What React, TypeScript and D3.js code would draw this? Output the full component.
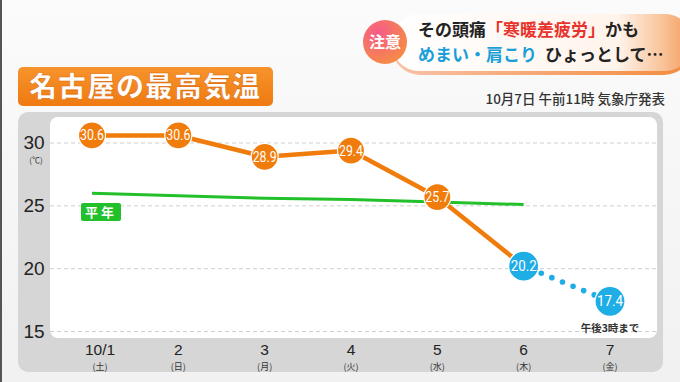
import React from "react";
import * as d3 from "d3";

const days = ["10/1", "2", "3", "4", "5", "6", "7"];
const weekdays = ["(土)", "(日)", "(月)", "(火)", "(水)", "(木)", "(金)"];
const maxTemps = [30.6, 30.6, 28.9, 29.4, 25.7, 20.2, 17.4];
const normalTemps = [26.0, 25.8, 25.6, 25.5, 25.3, 25.1];
const yTicks = [30, 25, 20, 15];

const JP = "'Noto Sans CJK JP', 'Noto Sans', sans-serif";
const NUM = "'Roboto', 'Liberation Sans', sans-serif";

export default function App() {
  const x = d3.scaleLinear().domain([0, 6]).range([92, 610]);
  const y = d3.scaleLinear().domain([15, 30]).range([331.5, 143]);
  const orange = "#f07c0c";
  const blue = "#1fade6";
  const green = "#22c02a";

  const solidIdx = [0, 1, 2, 3, 4, 5];
  const line = d3
    .line<number>()
    .x((i) => x(i))
    .y((i) => y(maxTemps[i]));
  const normalLine = d3
    .line<number>()
    .x((_, i) => x(i))
    .y((d) => y(d));

  // dotted segment from day 6 to day 7, between circle edges
  const x0 = x(5), y0 = y(maxTemps[5]), x1 = x(6), y1 = y(maxTemps[6]);
  const len = Math.hypot(x1 - x0, y1 - y0);
  const ux = (x1 - x0) / len, uy = (y1 - y0) / len;
  const start = 19, end = len - 17;
  const dots: [number, number][] = [];
  const n = 6;
  for (let k = 0; k < n; k++) {
    const s = start + ((end - start) * k) / (n - 1);
    dots.push([x0 + ux * s, y0 + uy * s]);
  }

  return (
    <svg
      width={680}
      height={382}
      style={{ position: "absolute", left: 0, top: 0 }}
      fontFamily={JP}
    >
      <defs>
        <linearGradient id="bg" x1="0" y1="0" x2="0" y2="1">
          <stop offset="0" stopColor="#fbfbfb" />
          <stop offset="1" stopColor="#f1f1f1" />
        </linearGradient>
        <linearGradient id="title" x1="0" y1="0" x2="0" y2="1">
          <stop offset="0" stopColor="#f7932c" />
          <stop offset="1" stopColor="#ef7a10" />
        </linearGradient>
        <radialGradient id="caution" cx="0.35" cy="0.3" r="0.8">
          <stop offset="0" stopColor="#f65a8a" />
          <stop offset="1" stopColor="#f59040" />
        </radialGradient>
        <linearGradient id="pill" x1="0" y1="0" x2="1" y2="0">
          <stop offset="0" stopColor="#ffffff" />
          <stop offset="0.75" stopColor="#fff4ec" />
          <stop offset="0.9" stopColor="#f9c49a" />
          <stop offset="1" stopColor="#f39a58" />
        </linearGradient>
        <linearGradient id="pillEdge" x1="0" y1="0" x2="1" y2="0">
          <stop offset="0" stopColor="#f7c3a8" />
          <stop offset="1" stopColor="#f48a3c" />
        </linearGradient>
      </defs>

      <rect x={0} y={0} width={680} height={382} fill="url(#bg)" />
      <rect x={0} y={0} width={2} height={382} fill="#555" />

      {/* top banner */}
      <rect x={392} y={15} width={300} height={60} rx={28} fill="url(#pillEdge)" />
      <rect x={392} y={14} width={300} height={57} rx={27} fill="url(#pill)" />
      <circle cx={385} cy={42} r={22} fill="url(#caution)" />
      <text x={385} y={48} textAnchor="middle" fill="#fff" fontSize={16} fontWeight={700}>
        注意
      </text>
      <text x={418} y={36} fontSize={17} fontWeight={700} fill="#222">
        その頭痛<tspan fill="#e8332c">「寒暖差疲労」</tspan>かも
      </text>
      <text x={418} y={61} fontSize={17} fontWeight={700} fill="#1b9fd8">
        めまい・肩こり
        <tspan fill="#222" dx={8}>ひょっとして…</tspan>
      </text>

      {/* title */}
      <rect x={18} y={67} width={255} height={39} rx={5} fill="url(#title)" />
      <text
        x={145}
        y={97}
        textAnchor="middle"
        fill="#fff"
        fontSize={28}
        fontWeight={900}
        letterSpacing={1}
        stroke="#e06a00"
        strokeWidth={0.6}
      >
        名古屋の最高気温
      </text>
      <text x={665} y={104} textAnchor="end" fontSize={13.5} fontWeight={500} fill="#333">
        10月7日 午前11時 気象庁発表
      </text>

      {/* chart frame */}
      <rect x={18} y={112} width={645} height={260} rx={10} fill="#d6d6d6" />
      <rect x={50} y={117} width={607} height={221} rx={8} fill="#ffffff" />

      {/* grid */}
      {yTicks.map((t) => (
        <line
          key={t}
          x1={50}
          x2={656}
          y1={y(t)}
          y2={y(t)}
          stroke="#cfcfcf"
          strokeWidth={1}
          strokeDasharray="4,3"
        />
      ))}
      {yTicks.map((t) => (
        <text
          key={"l" + t}
          x={34}
          y={y(t) + 6}
          textAnchor="middle"
          fontSize={19}
          fontFamily="'Liberation Sans', 'Roboto', sans-serif"
          fill="#222"
        >
          {t}
        </text>
      ))}
      <text x={36} y={163} textAnchor="middle" fontSize={8} fill="#333">
        (℃)
      </text>

      {/* x labels */}
      {days.map((d, i) => (
        <g key={d}>
          <text
            x={x(i) + (i === 0 ? 8 : 0)}
            y={355}
            textAnchor="middle"
            fontSize={15.5}
            fontFamily="'Liberation Sans', 'Roboto', sans-serif"
            fill="#222"
          >
            {d}
          </text>
          <text x={x(i) + (i === 0 ? 8 : 0)} y={370} textAnchor="middle" fontSize={9} fill="#333">
            {weekdays[i]}
          </text>
        </g>
      ))}

      {/* normal line */}
      <path d={normalLine(normalTemps) || ""} fill="none" stroke={green} strokeWidth={3} />
      <rect x={81} y={203} width={40} height={18} rx={2} fill={green} />
      <text x={101} y={217} textAnchor="middle" fill="#fff" fontSize={13} fontWeight={700} letterSpacing={3}>
        平年
      </text>

      {/* temperature line */}
      <path d={line(solidIdx) || ""} fill="none" stroke={orange} strokeWidth={4.5} strokeLinejoin="round" />
      {dots.map((p, k) => (
        <circle key={k} cx={p[0]} cy={p[1]} r={2.8} fill={blue} />
      ))}

      {maxTemps.map((v, i) => {
        const isBlue = i >= 5;
        const r = isBlue ? 15 : 13.5;
        return (
          <g key={i}>
            <circle cx={x(i)} cy={y(v)} r={r} fill={isBlue ? blue : orange} stroke="#fff" strokeWidth={1.2} />
            <text
              x={x(i)}
              y={y(v) + 5}
              textAnchor="middle"
              fill="#fff"
              fontSize={15}
              fontFamily={NUM}
              textLength={isBlue ? 26 : 24}
              lengthAdjust="spacingAndGlyphs"
            >
              {v.toFixed(1)}
            </text>
          </g>
        );
      })}
      <text x={610} y={332} textAnchor="middle" fontSize={10.5} fontWeight={700} fill="#333">
        午後3時まで
      </text>
    </svg>
  );
}
